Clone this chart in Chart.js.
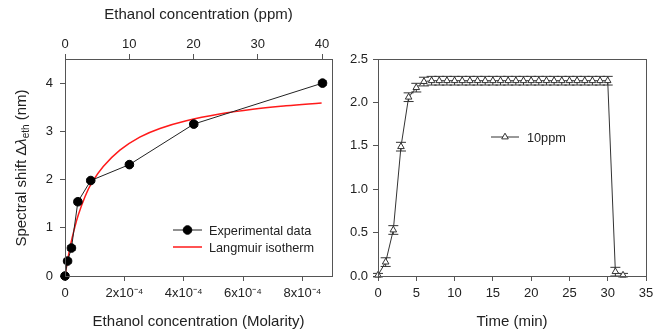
<!DOCTYPE html>
<html>
<head>
<meta charset="utf-8">
<script src="https://cdn.jsdelivr.net/npm/chart.js@4"></script>
<style>
html, body { margin: 0; padding: 0; background: #fff; }
#wrap { position: relative; width: 663px; height: 335px; }
canvas { position: absolute; top: 0; }
</style>
</head>
<body>
<div id="wrap">
  <canvas id="leftChart" width="340" height="335" style="left:0px"></canvas>
  <canvas id="rightChart" width="323" height="335" style="left:340px"></canvas>
</div>
<script>
// ---- left panel data (shift vs concentration) ----
var expMolar = [0, 8.7e-6, 2.17e-5, 4.34e-5, 8.68e-5, 2.17e-4, 4.34e-4, 8.68e-4];
var expShift = [0, 0.31, 0.58, 1.54, 1.98, 2.31, 3.15, 4.0];
var expErr   = [0.04, 0.04, 0.05, 0.05, 0.04, 0.04, 0.05, 0.05];

var fitMolar = [0, 1.0e-5, 2.0e-5, 3.0e-5, 4.5e-5, 6.7e-5, 9.0e-5, 1.29e-4, 1.85e-4, 2.52e-4, 3.2e-4, 4.09e-4, 5.21e-4, 6.33e-4, 7.45e-4, 8.65e-4];
var fitShift = [0, 0.37, 0.68, 0.94, 1.27, 1.64, 1.93, 2.27, 2.61, 2.88, 3.06, 3.22, 3.36, 3.46, 3.53, 3.59];

var molTicks  = [0, 2e-4, 4e-4, 6e-4, 8e-4];
var molLabels = ['0', '2x10\u207B\u2074', '4x10\u207B\u2074', '6x10\u207B\u2074', '8x10\u207B\u2074'];
var ppmTicks  = [0, 10, 20, 30, 40];
var shiftTicks = [0, 1, 2, 3, 4];

// ---- right panel data (10ppm response vs time) ----
var timeMin = [0, 1, 2, 3, 4, 5, 6, 7, 8, 9, 10, 11, 12, 13, 14, 15, 16, 17, 18, 19, 20,
               21, 22, 23, 24, 25, 26, 27, 28, 29, 30, 31, 32];
var shift10 = [0.01, 0.16, 0.53, 1.49, 2.06, 2.17, 2.24, 2.25, 2.25, 2.25, 2.25, 2.25, 2.25, 2.25, 2.25, 2.25, 2.25, 2.25, 2.25, 2.25, 2.25,
               2.25, 2.25, 2.25, 2.25, 2.25, 2.25, 2.25, 2.25, 2.25, 2.25, 0.05, 0.01];
var err10   = [0.02, 0.05, 0.05, 0.05, 0.05, 0.05, 0.05, 0.05, 0.05, 0.05, 0.05, 0.05, 0.05, 0.05, 0.05, 0.05, 0.05, 0.05, 0.05, 0.05, 0.05,
               0.05, 0.05, 0.05, 0.05, 0.05, 0.05, 0.05, 0.05, 0.05, 0.05, 0.05, 0.02];
var timeTicks = [0, 5, 10, 15, 20, 25, 30, 35];
var rightYTicks = [0, 0.5, 1.0, 1.5, 2.0, 2.5];

var FONT = "'Liberation Sans', Arial, sans-serif";
var AXIS = '#555';
var TEXT = '#222';

Chart.defaults.font.family = FONT;
Chart.defaults.color = TEXT;

function pts(xs, ys) {
  var out = [];
  for (var i = 0; i < xs.length; i++) out.push({ x: xs[i], y: ys[i] });
  return out;
}

function fixedTicks(list) {
  return function (scale) { scale.ticks = list.map(function (v) { return { value: v }; }); };
}

function axisStyle(extra) {
  var o = {
    type: 'linear',
    grid: { display: true, drawOnChartArea: false, drawTicks: true, tickLength: 5, color: AXIS },
    border: { display: true, color: AXIS, width: 1 },
    ticks: { font: { size: 13 }, color: TEXT, maxRotation: 0, autoSkip: false }
  };
  for (var k in extra) {
    if (typeof extra[k] === 'object' && o[k] && !Array.isArray(extra[k])) {
      for (var j in extra[k]) o[k][j] = extra[k][j];
    } else {
      o[k] = extra[k];
    }
  }
  return o;
}

// error bars drawn under the markers
var errorBars = {
  id: 'errorBars',
  beforeDatasetsDraw: function (chart) {
    var ctx = chart.ctx, xs = chart.scales.x, ys = chart.scales.y;
    chart.data.datasets.forEach(function (ds) {
      if (!ds.yErr) return;
      ctx.save();
      ctx.strokeStyle = ds.borderColor;
      ctx.lineWidth = 1;
      ds.data.forEach(function (p, i) {
        var px = xs.getPixelForValue(p.x);
        var y1 = ys.getPixelForValue(p.y + ds.yErr[i]);
        var y2 = ys.getPixelForValue(p.y - ds.yErr[i]);
        var c = ds.capWidth / 2;
        ctx.beginPath();
        ctx.moveTo(px, y1); ctx.lineTo(px, y2);
        ctx.moveTo(px - c, y1); ctx.lineTo(px + c, y1);
        ctx.moveTo(px - c, y2); ctx.lineTo(px + c, y2);
        ctx.stroke();
      });
      ctx.restore();
    });
  }
};

function drawMarker(ctx, style, x, y, r, fill, stroke) {
  ctx.beginPath();
  if (style === 'circle') {
    ctx.arc(x, y, r, 0, Math.PI * 2);
  } else if (style === 'triangle') {
    var a = 0;
    ctx.moveTo(x + Math.sin(a) * r, y - Math.cos(a) * r);
    a += Math.PI * 2 / 3;
    ctx.lineTo(x + Math.sin(a) * r, y - Math.cos(a) * r);
    a += Math.PI * 2 / 3;
    ctx.lineTo(x + Math.sin(a) * r, y - Math.cos(a) * r);
    ctx.closePath();
  }
  ctx.fillStyle = fill; ctx.fill();
  ctx.strokeStyle = stroke; ctx.lineWidth = 1; ctx.stroke();
}

// frame, hand-made legend and y title
var decor = {
  id: 'decor',
  afterDraw: function (chart, args, opts) {
    var ctx = chart.ctx, a = chart.chartArea;
    ctx.save();
    ctx.strokeStyle = AXIS;
    ctx.lineWidth = 1;
    ctx.strokeRect(Math.round(a.left) + 0.5, Math.round(a.top) + 0.5,
                   Math.round(a.right - a.left), Math.round(a.bottom - a.top));

    (opts.legend || []).forEach(function (it) {
      var ds = chart.data.datasets[it.ds];
      ctx.beginPath();
      ctx.strokeStyle = ds.borderColor;
      ctx.lineWidth = ds.borderWidth;
      ctx.moveTo(it.x1, it.y); ctx.lineTo(it.x2, it.y);
      ctx.stroke();
      if (ds.pointRadius > 0) {
        drawMarker(ctx, ds.pointStyle, (it.x1 + it.x2) / 2, it.y, ds.pointRadius,
                   ds.pointBackgroundColor, ds.pointBorderColor);
      }
      ctx.fillStyle = TEXT;
      ctx.font = '12.7px ' + FONT;
      ctx.textBaseline = 'middle';
      ctx.textAlign = 'left';
      ctx.fillText(ds.label, it.tx, it.y + 1);
    });

    if (opts.yTitle) {
      var t = opts.yTitle;
      ctx.translate(t.x, t.y);
      ctx.rotate(-Math.PI / 2);
      ctx.fillStyle = TEXT;
      ctx.textBaseline = 'middle';
      ctx.textAlign = 'left';
      var parts = [
        ['Spectral shift \u0394', '15px ' + FONT, 0],
        ['\u03BB', 'italic 15px ' + FONT, 0],
        ['eth', '10px ' + FONT, 4],
        [' (nm)', '15px ' + FONT, 0]
      ];
      var total = 0;
      parts.forEach(function (p) { ctx.font = p[1]; total += ctx.measureText(p[0]).width; });
      var x = -total / 2;
      parts.forEach(function (p) {
        ctx.font = p[1];
        ctx.fillText(p[0], x, p[2]);
        x += ctx.measureText(p[0]).width;
      });
    }
    ctx.restore();
  }
};

new Chart(document.getElementById('leftChart'), {
  type: 'line',
  data: {
    datasets: [
      {
        label: 'Experimental data',
        data: pts(expMolar, expShift),
        yErr: expErr,
        capWidth: 8,
        borderColor: '#222',
        borderWidth: 1,
        pointStyle: 'circle',
        pointRadius: 4.3,
        pointBackgroundColor: '#000',
        pointBorderColor: '#000',
        tension: 0,
        clip: false
      },
      {
        label: 'Langmuir isotherm',
        data: pts(fitMolar, fitShift),
        borderColor: '#ff1a1a',
        borderWidth: 1.5,
        pointRadius: 0,
        tension: 0.4,
        clip: false
      }
    ]
  },
  options: {
    responsive: false,
    animation: false,
    events: [],
    layout: { padding: { top: 0, right: 8, bottom: 0, left: 0 } },
    plugins: {
      legend: { display: false },
      tooltip: { enabled: false },
      decor: {
        legend: [
          { ds: 0, x1: 173, x2: 202, y: 230, tx: 209 },
          { ds: 1, x1: 173, x2: 202, y: 247, tx: 209 }
        ],
        yTitle: { x: 22, y: 168 }
      }
    },
    scales: {
      x: axisStyle({
        position: 'bottom', min: 0, max: 9e-4,
        afterBuildTicks: fixedTicks(molTicks),
        afterFit: function (s) { s.height = 59; },
        ticks: { padding: 5, callback: function (v, i) { return molLabels[i]; } },
        title: { display: true, text: 'Ethanol concentration (Molarity)', font: { size: 15 }, color: TEXT, padding: { top: 0, bottom: 4 } }
      }),
      x2: axisStyle({
        axis: 'x', position: 'top', min: 0, max: 41.55,
        afterBuildTicks: fixedTicks(ppmTicks),
        afterFit: function (s) { s.height = 59; },
        ticks: { padding: 2, callback: function (v) { return String(v); } },
        title: { display: true, text: 'Ethanol concentration (ppm)', font: { size: 15 }, color: TEXT, padding: { top: 6, bottom: 0 } }
      }),
      y: axisStyle({
        position: 'left', min: 0, max: 4.5,
        afterBuildTicks: fixedTicks(shiftTicks),
        afterFit: function (s) { s.width = 65; },
        ticks: { padding: 7, callback: function (v) { return String(v); } }
      })
    }
  },
  plugins: [errorBars, decor]
});

new Chart(document.getElementById('rightChart'), {
  type: 'line',
  data: {
    datasets: [
      {
        label: '10ppm',
        data: pts(timeMin, shift10),
        yErr: err10,
        capWidth: 10,
        borderColor: '#333',
        borderWidth: 1,
        pointStyle: 'triangle',
        pointRadius: 3.8,
        pointBackgroundColor: '#fff',
        pointBorderColor: '#333',
        pointBorderWidth: 1,
        tension: 0,
        clip: false
      }
    ]
  },
  options: {
    responsive: false,
    animation: false,
    events: [],
    layout: { padding: { top: 59, right: 17, bottom: 0, left: 0 } },
    plugins: {
      legend: { display: false },
      tooltip: { enabled: false },
      decor: {
        legend: [ { ds: 0, x1: 151, x2: 179, y: 137, tx: 187 } ]
      }
    },
    scales: {
      x: axisStyle({
        position: 'bottom', min: 0, max: 35,
        afterBuildTicks: fixedTicks(timeTicks),
        afterFit: function (s) { s.height = 59; },
        ticks: { padding: 5, callback: function (v) { return String(v); } },
        title: { display: true, text: 'Time (min)', font: { size: 15 }, color: TEXT, padding: { top: 0, bottom: 4 } }
      }),
      y: axisStyle({
        position: 'left', min: 0, max: 2.5,
        afterBuildTicks: fixedTicks(rightYTicks),
        afterFit: function (s) { s.width = 38; },
        ticks: { padding: 5, callback: function (v) { return v.toFixed(1); } }
      })
    }
  },
  plugins: [errorBars, decor]
});
</script>
</body>
</html>
